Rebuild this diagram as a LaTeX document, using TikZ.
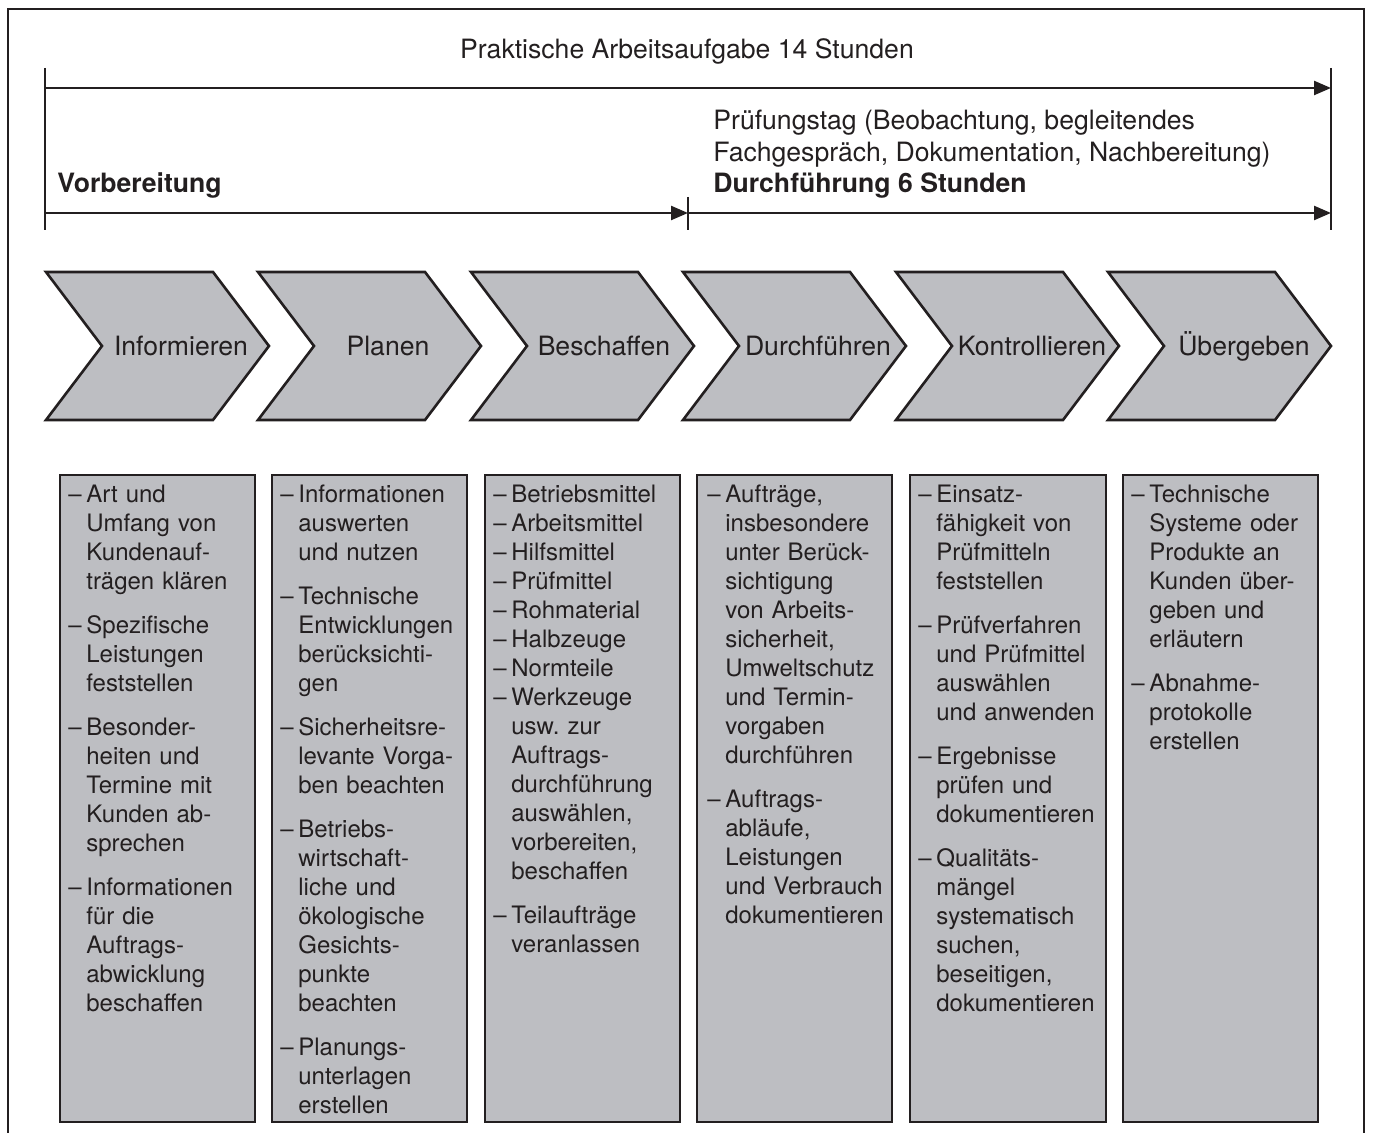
\documentclass[tikz,border=0pt]{standalone}
\usepackage{fontspec}
\setmainfont{TeX Gyre Heros}
\usetikzlibrary{arrows.meta}

\definecolor{ink}{RGB}{35,31,32}
\definecolor{stepgray}{RGB}{189,190,194}

\frenchspacing
\newcommand{\boxfont}{\fontsize{12}{14.5}\selectfont}
\newcommand{\headfont}{\fontsize{13.3}{16}\selectfont}
% one list entry: dash, then hanging lines
\newcommand{\itm}[1]{\par\hangindent=9pt\hangafter=1\noindent\makebox[9pt][l]{\strut–}{\let\\\newline#1}}
\newcommand{\gap}{\par\vspace{7.5pt}}

\tikzset{
  frameline/.style={line width=1.25pt, draw=ink},
  dimline/.style={line width=1.2pt, draw=ink, -{Triangle[length=8.5pt,width=7pt]}},
  tickline/.style={line width=1.2pt, draw=ink},
  chev/.style={line width=1.3pt, draw=ink, fill=stepgray, line join=miter},
  chevlabel/.style={anchor=base, text=ink, font=\headfont, inner sep=0pt},
  taskbox/.style={line width=1.3pt, draw=ink, fill=stepgray},
  tasktext/.style={anchor=north west, text=ink, font=\boxfont, text width=96pt, align=left, inner sep=0pt},
  headtext/.style={anchor=base west, text=ink, font=\headfont, inner sep=0pt},
}

\begin{document}
\begin{tikzpicture}[x=0.5pt, y=-0.5pt]
		%%%%% START %%%%%
		\useasboundingbox (0,0) rectangle (1373,1133);
		
		% frame, open at the bottom
		\draw[frameline] (8,1133) -- (8,9) -- (1364,9) -- (1364,1133);
		
		% time spans
		\coordinate (totL) at (45,88);
		\coordinate (totR) at (1331,88);
		\coordinate (prepL) at (45,213);
		\coordinate (prepR) at (688,213);
		\coordinate (execR) at (1331,213);
		\draw[tickline] (45,68) -- (45,230);
		\draw[tickline] (1331,68) -- (1331,230);
		\draw[tickline] (688,197) -- (688,230);
		\draw[dimline] (totL) -- (totR);
		\draw[dimline] (prepL) -- (prepR);
		\draw[dimline] (prepR) -- (execR);
		
		\node[headtext, anchor=base] (total) at (687,59) {Praktische Arbeitsaufgabe 14 Stunden};
		\node[headtext] (prep) at (57,193) {\bfseries Vorbereitung};
		\node[headtext] (exam1) at (713,130) {Prüfungstag (Beobachtung, begleitendes};
		\node[headtext] (exam2) at (713,162) {Fachgespräch, Dokumentation, Nachbereitung)};
		\node[headtext] (exam3) at (713,193) {\bfseries Durchführung 6 Stunden};
		
		% process steps
		\draw[chev] (46,272) -- (213,272) -- (269,346) -- (213,420) -- (46,420) -- (102,346) -- cycle;
		\draw[chev] (258,272) -- (425,272) -- (481,346) -- (425,420) -- (258,420) -- (314,346) -- cycle;
		\draw[chev] (471,272) -- (638,272) -- (694,346) -- (638,420) -- (471,420) -- (527,346) -- cycle;
		\draw[chev] (683,272) -- (850,272) -- (906,346) -- (850,420) -- (683,420) -- (739,346) -- cycle;
		\draw[chev] (896,272) -- (1063,272) -- (1119,346) -- (1063,420) -- (896,420) -- (952,346) -- cycle;
		\draw[chev] (1108,272) -- (1275,272) -- (1331,346) -- (1275,420) -- (1108,420) -- (1164,346) -- cycle;
		
		\node[chevlabel] (informieren) at (181,356) {Informieren};
		\node[chevlabel] (planen) at (388,356) {Planen};
		\node[chevlabel] (beschaffen) at (604,356) {Beschaffen};
		\node[chevlabel] (durchfuehren) at (818,356) {Durchführen};
		\node[chevlabel] (kontrollieren) at (1032,356) {Kontrollieren};
		\node[chevlabel] (uebergeben) at (1244,356) {Übergeben};
		
		% task columns
		\draw[taskbox] (60,475) rectangle (255,1122);
		\draw[taskbox] (272,475) rectangle (467,1122);
		\draw[taskbox] (485,475) rectangle (680,1122);
		\draw[taskbox] (697,475) rectangle (892,1122);
		\draw[taskbox] (910,475) rectangle (1106,1122);
		\draw[taskbox] (1123,475) rectangle (1318,1122);
		
		\node[tasktext] (tasks1) at (68,473) {%
			\itm{Art und\\Umfang von\\Kundenauf-\\trägen klären}\gap
			\itm{Spezifische\\Leistungen\\feststellen}\gap
			\itm{Besonder-\\heiten und\\Termine mit\\Kunden ab-\\sprechen}\gap
			\itm{Informationen\\für die\\Auftrags-\\abwicklung\\beschaffen}\par};
		\node[tasktext] (tasks2) at (280,473) {%
			\itm{Informationen\\auswerten\\und nutzen}\gap
			\itm{Technische\\Entwicklungen\\berücksichti-\\gen}\gap
			\itm{Sicherheitsre-\\levante Vorga-\\ben beachten}\gap
			\itm{Betriebs-\\wirtschaft-\\liche und\\ökologische\\Gesichts-\\punkte\\beachten}\gap
			\itm{Planungs-\\unterlagen\\erstellen}\par};
		\node[tasktext] (tasks3) at (493,473) {%
			\itm{Betriebsmittel}
			\itm{Arbeitsmittel}
			\itm{Hilfsmittel}
			\itm{Prüfmittel}
			\itm{Rohmaterial}
			\itm{Halbzeuge}
			\itm{Normteile}
			\itm{Werkzeuge\\usw. zur\\Auftrags-\\durchführung\\auswählen,\\vorbereiten,\\beschaffen}\gap
			\itm{Teilaufträge\\veranlassen}\par};
		\node[tasktext] (tasks4) at (707,473) {%
			\itm{Aufträge,\\insbesondere\\unter Berück-\\sichtigung\\von Arbeits-\\sicherheit,\\Umweltschutz\\und Termin-\\vorgaben\\durchführen}\gap
			\itm{Auftrags-\\abläufe,\\Leistungen\\und Verbrauch\\dokumentieren}\par};
		\node[tasktext] (tasks5) at (918,473) {%
			\itm{Einsatz-\\fähigkeit von\\Prüfmitteln\\feststellen}\gap
			\itm{Prüfverfahren\\und Prüfmittel\\auswählen\\und anwenden}\gap
			\itm{Ergebnisse\\prüfen und\\dokumentieren}\gap
			\itm{Qualitäts-\\mängel\\systematisch\\suchen,\\beseitigen,\\dokumentieren}\par};
		\node[tasktext] (tasks6) at (1131,473) {%
			\itm{Technische\\Systeme oder\\Produkte an\\Kunden über-\\geben und\\erläutern}\gap
			\itm{Abnahme-\\protokolle\\erstellen}\par};
		
		%%%%% END %%%%%
\end{tikzpicture}
\end{document}
